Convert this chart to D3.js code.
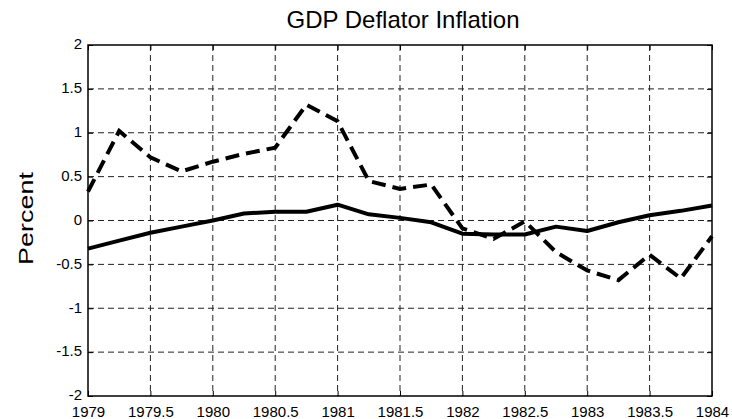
<!DOCTYPE html>
<html>
<head>
<meta charset="utf-8">
<script src="https://cdn.jsdelivr.net/npm/d3@7"></script>
<style>
  body { margin: 0; background: #fff; }
  text { font-family: "Liberation Sans", Arial, sans-serif; fill: #000; }
</style>
</head>
<body>
<svg id="chart" width="732" height="419"></svg>
<script>
const quarters = [1979, 1979.25, 1979.5, 1979.75, 1980, 1980.25, 1980.5, 1980.75,
    1981, 1981.25, 1981.5, 1981.75, 1982, 1982.25, 1982.5, 1982.75,
    1983, 1983.25, 1983.5, 1983.75, 1984];

const solidSeries = [-0.32, -0.23, -0.14, -0.07, 0.0, 0.08, 0.10, 0.10,
    0.18, 0.07, 0.03, -0.02, -0.15, -0.16, -0.16, -0.07,
    -0.12, -0.02, 0.06, 0.11, 0.17];

const dashedSeries = [0.33, 1.02, 0.72, 0.56, 0.67, 0.76, 0.83, 1.32,
    1.13, 0.45, 0.36, 0.41, -0.09, -0.21, -0.01, -0.36,
    -0.57, -0.68, -0.39, -0.66, -0.18];

const xTicks = [1979, 1979.5, 1980, 1980.5, 1981, 1981.5, 1982, 1982.5, 1983, 1983.5, 1984];
const yTicks = [-2, -1.5, -1, -0.5, 0, 0.5, 1, 1.5, 2];

const margin = {top: 45, right: 20, bottom: 23, left: 88};
const width = 732, height = 419;

const svg = d3.select("#chart");

const x = d3.scaleLinear().domain([1979, 1984]).range([margin.left, width - margin.right]);
const y = d3.scaleLinear().domain([-2, 2]).range([height - margin.bottom, margin.top]);

// grid
svg.append("g")
    .selectAll("line")
    .data(xTicks.slice(1, -1))
    .join("line")
    .attr("x1", d => x(d)).attr("x2", d => x(d))
    .attr("y1", y(2)).attr("y2", y(-2))
    .attr("stroke", "#222").attr("stroke-width", 1)
    .attr("stroke-dasharray", "6,4");

svg.append("g")
    .selectAll("line")
    .data(yTicks.slice(1, -1))
    .join("line")
    .attr("x1", x(1979)).attr("x2", x(1984))
    .attr("y1", d => y(d)).attr("y2", d => y(d))
    .attr("stroke", "#222").attr("stroke-width", 1)
    .attr("stroke-dasharray", "6,4");

// axes
svg.append("g")
    .attr("transform", `translate(0,${y(-2)})`)
    .call(d3.axisBottom(x).tickValues(xTicks).tickSize(-5).tickPadding(10).tickFormat(d => String(d)))
    .call(g => g.select(".domain").remove())
    .call(g => g.selectAll("text").attr("font-size", 15).attr("font-family", null));

svg.append("g")
    .attr("transform", `translate(0,${y(2)})`)
    .call(d3.axisTop(x).tickValues(xTicks).tickSize(-5).tickFormat(""))
    .call(g => g.select(".domain").remove());

svg.append("g")
    .attr("transform", `translate(${x(1979)},0)`)
    .call(d3.axisLeft(y).tickValues(yTicks).tickSize(-5).tickPadding(6).tickFormat(d => String(d)))
    .call(g => g.select(".domain").remove())
    .call(g => g.selectAll("text").attr("font-size", 15).attr("font-family", null).attr("dy", "0.25em"));

svg.append("g")
    .attr("transform", `translate(${x(1984)},0)`)
    .call(d3.axisRight(y).tickValues(yTicks).tickSize(-5).tickFormat(""))
    .call(g => g.select(".domain").remove());

svg.append("rect")
    .attr("x", x(1979)).attr("y", y(2))
    .attr("width", x(1984) - x(1979)).attr("height", y(-2) - y(2))
    .attr("fill", "none").attr("stroke", "#000").attr("stroke-width", 1.5);

// lines
const line = d3.line().x((d, i) => x(quarters[i])).y(d => y(d));

svg.append("path")
    .datum(solidSeries)
    .attr("d", line)
    .attr("fill", "none").attr("stroke", "#000").attr("stroke-width", 4)
    .attr("stroke-linejoin", "round");

svg.append("path")
    .datum(dashedSeries)
    .attr("d", line)
    .attr("fill", "none").attr("stroke", "#000").attr("stroke-width", 4)
    .attr("stroke-dasharray", "14,7");

// title and label
svg.append("text")
    .attr("x", 403).attr("y", 28)
    .attr("text-anchor", "middle").attr("font-size", 24)
    .text("GDP Deflator Inflation");

// tall, narrow y label like the original
svg.append("text")
    .attr("transform", `translate(33,${y(0) - 2}) rotate(-90) scale(1,0.72)`)
    .attr("text-anchor", "middle").attr("font-size", 27)
    .text("Percent");
</script>
</body>
</html>
